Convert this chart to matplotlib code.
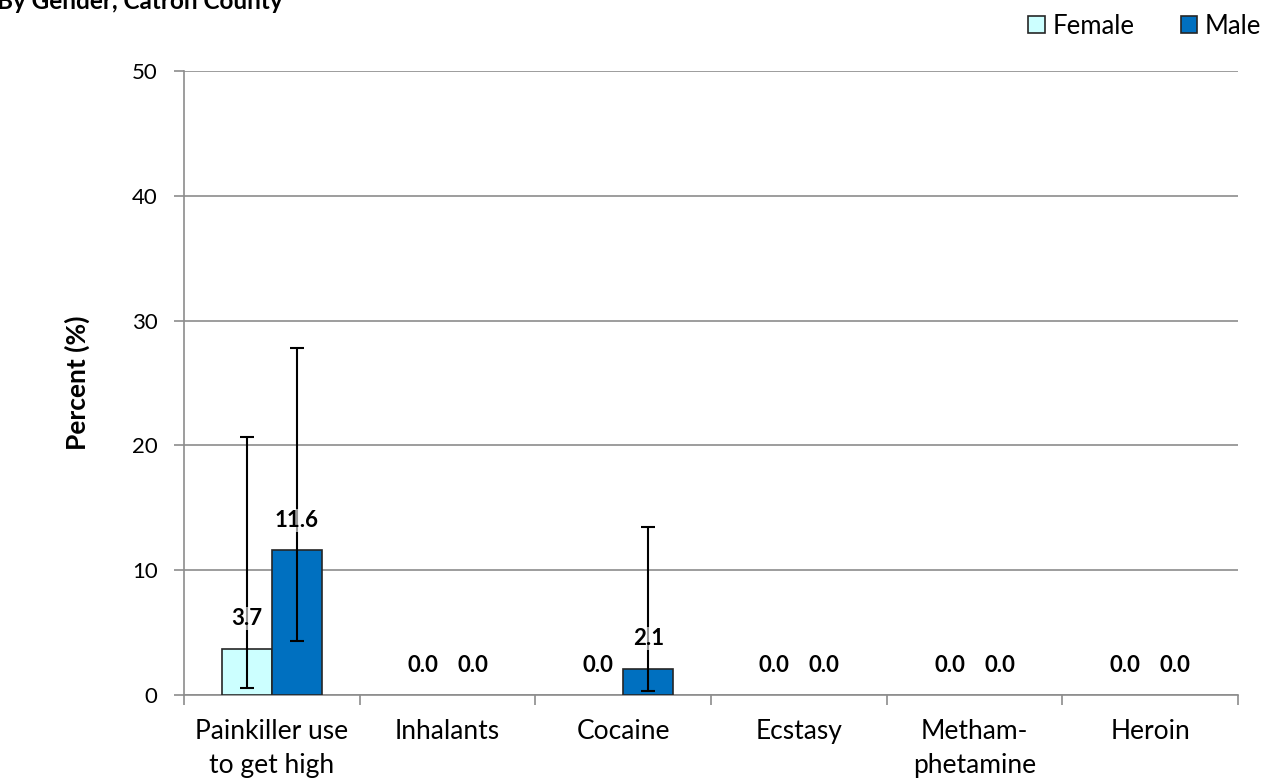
import matplotlib
matplotlib.use("Agg")
import matplotlib.pyplot as plt
import numpy as np
from matplotlib.patches import Patch

categories = ["Painkiller use\nto get high", "Inhalants", "Cocaine", "Ecstasy", "Metham-\nphetamine", "Heroin"]
female = [3.7, 0.0, 0.0, 0.0, 0.0, 0.0]
male = [11.6, 0.0, 2.1, 0.0, 0.0, 0.0]
female_lo = [0.6, None, None, None, None, None]
female_hi = [20.7, None, None, None, None, None]
male_lo = [4.3, None, 0.3, None, None, None]
male_hi = [27.8, None, 13.5, None, None, None]
yticks = [0, 10, 20, 30, 40, 50]

plt.rcParams['font.family'] = ['Lato', 'DejaVu Sans']

fig = plt.figure(figsize=(12.65, 7.84), dpi=100)
ax = fig.add_axes([184/1265, 1-695/784, (1238-184)/1265, (695-71)/784])

x = np.arange(len(categories))
w = 0.285
grid_c = "#8c8c8c"
ax.set_xlim(-0.5, len(categories)-0.5)
ax.set_ylim(0, 50)
ax.set_yticks(yticks)
ax.yaxis.grid(True, color=grid_c, linewidth=1.2)
ax.set_axisbelow(True)

def edges(vals):
    return ["#262626" if v > 0 else "none" for v in vals]

bf = ax.bar(x - w/2, female, w, color="#ccffff", edgecolor=edges(female), linewidth=1.2, zorder=3, label="Female")
bm = ax.bar(x + w/2, male, w, color="#0070c0", edgecolor=edges(male), linewidth=1.2, zorder=3, label="Male")

def errs(vals, lo, hi, xs):
    for xi, v, l, h in zip(xs, vals, lo, hi):
        if l is None:
            continue
        ax.errorbar([xi], [v], yerr=[[v - l], [h - v]], fmt="none", ecolor="black",
                    elinewidth=1.5, capsize=5, capthick=1.5, zorder=4)

errs(female, female_lo, female_hi, x - w/2)
errs(male, male_lo, male_hi, x + w/2)

for xs, vals in ((x - w/2, female), (x + w/2, male)):
    for xi, v in zip(xs, vals):
        ax.annotate(f"{v:.1f}", (xi, v), xytext=(0, 14), textcoords="offset points",
                    ha="center", va="bottom", fontsize=16, fontweight="bold", zorder=5,
                    bbox=dict(boxstyle="square,pad=0.05", fc="white", ec="none", alpha=0.6))

for s in ("top", "right"):
    ax.spines[s].set_visible(False)
ax.spines["left"].set_color(grid_c)
ax.spines["bottom"].set_color(grid_c)
ax.spines["left"].set_linewidth(1.2)
ax.spines["bottom"].set_linewidth(1.2)

ax.set_xticks(x)
ax.set_xticklabels(categories, fontsize=19, linespacing=1.45)
ax.tick_params(axis="x", length=0, pad=17)
ax.set_xticks(np.arange(len(categories)+1) - 0.5, minor=True)
ax.tick_params(axis="x", which="minor", length=7, color=grid_c, width=1.2)
ax.tick_params(axis="y", length=7, color=grid_c, width=1.2, labelsize=16, pad=12)

ax.set_ylabel("Percent (%)", fontsize=19, fontweight="bold", labelpad=30)

fig.text(-0.002, 0.998, "By Gender, Catron County", fontsize=17.5, fontweight="bold", ha="left", va="center")

h1 = Patch(facecolor="#ccffff", edgecolor="#262626", linewidth=1.2, label="Female")
h2 = Patch(facecolor="#0070c0", edgecolor="#262626", linewidth=1.2, label="Male")
leg = fig.legend(handles=[h1, h2], loc="upper right", bbox_to_anchor=(1.0155, 1.012), ncol=2,
                 frameon=False, fontsize=18.5, handlelength=0.65, handleheight=0.65,
                 handletextpad=0.3, columnspacing=1.8)

fig.savefig("out.png", dpi=100)
